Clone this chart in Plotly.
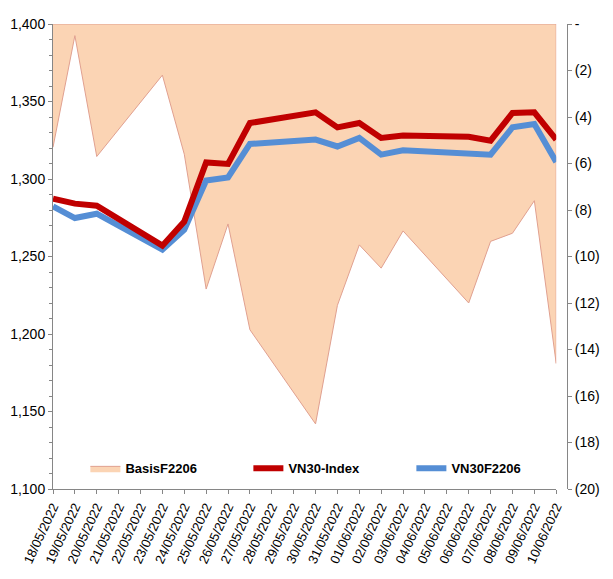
import plotly.graph_objects as go

dates = ["2022-05-18", "2022-05-19", "2022-05-20", "2022-05-23", "2022-05-24", "2022-05-25",
         "2022-05-26", "2022-05-27", "2022-05-30", "2022-05-31", "2022-06-01", "2022-06-02",
         "2022-06-03", "2022-06-06", "2022-06-07", "2022-06-08", "2022-06-09", "2022-06-10"]
vn30_index = [1287.3, 1284.1, 1282.8, 1257.0, 1272.5, 1310.7, 1309.7, 1336.1, 1343.0, 1333.3,
              1336.1, 1326.5, 1328.0, 1327.3, 1324.7, 1342.6, 1343.0, 1325.4]
vn30f2206 = [1282.3, 1274.8, 1277.6, 1254.4, 1267.3, 1299.0, 1301.0, 1322.6, 1325.4, 1321.0,
             1326.5, 1315.7, 1318.5, 1315.7, 1315.7, 1333.3, 1335.5, 1311.0]
basis = [-5.3, -0.5, -5.7, -2.2, -5.6, -11.4, -8.6, -13.15, -17.2, -12.1,
         -9.5, -10.5, -8.9, -12.0, -9.35, -9.0, -7.6, -14.6]

right_tickvals = [0, -2, -4, -6, -8, -10, -12, -14, -16, -18, -20]
right_ticktext = ["-", "(2)", "(4)", "(6)", "(8)", "(10)", "(12)", "(14)", "(16)", "(18)", "(20)"]

FONT = "Liberation Sans, Arial, sans-serif"
AXIS_GRAY = "#868686"

fig = go.Figure()

# Basis area (right axis, drawn underneath): closed polygon back along the zero baseline
poly_x = dates + [dates[-1], dates[0]]
poly_y = basis + [0, 0]
fig.add_trace(go.Scatter(
    x=poly_x, y=poly_y, yaxis="y", name="BasisF2206", legendrank=1,
    mode="lines", fill="toself", fillcolor="#FBD4B4",
    line=dict(color="#E0A090", width=1), hoverinfo="skip",
))
fig.add_trace(go.Scatter(
    x=dates, y=vn30f2206, yaxis="y2", name="VN30F2206", legendrank=3, mode="lines",
    line=dict(color="#558ED5", width=6),
))
fig.add_trace(go.Scatter(
    x=dates, y=vn30_index, yaxis="y2", name="VN30-Index", legendrank=2, mode="lines",
    line=dict(color="#C00000", width=6),
))

fig.update_layout(
    width=613, height=579,
    margin=dict(l=53, r=46, t=24, b=90),
    paper_bgcolor="white", plot_bgcolor="white",
    font=dict(family=FONT, size=12, color="#000000"),
    showlegend=True,
    legend=dict(
        orientation="h", x=0.063, y=0.012, xanchor="left", yanchor="bottom",
        bgcolor="rgba(0,0,0,0)",
        font=dict(family=FONT, size=13, color="#000000", weight="bold"),
        entrywidth=118, entrywidthmode="pixels",
    ),
    xaxis=dict(
        type="date", domain=[0, 0.979], automargin=False,
        range=["2022-05-18", "2022-06-10"],
        tickmode="linear", tick0="2022-05-18", dtick=86400000,
        tickformat="%d/%m/%Y", tickangle=-65,
        ticks="outside", ticklen=4, tickcolor=AXIS_GRAY,
        showline=True, linecolor=AXIS_GRAY, linewidth=1,
        showgrid=False, zeroline=False,
        tickfont=dict(family=FONT, size=13),
    ),
    yaxis=dict(
        side="right", anchor="free", position=1.0, automargin=False,
        range=[-20, 0], tickvals=right_tickvals, ticktext=right_ticktext,
        ticks="outside", ticklen=4, tickcolor=AXIS_GRAY,
        showline=True, linecolor=AXIS_GRAY, linewidth=1,
        showgrid=False, zeroline=False,
        tickfont=dict(family=FONT, size=14),
    ),
    yaxis2=dict(
        overlaying="y", side="left", anchor="x", automargin=False,
        range=[1100, 1400], dtick=50, tickformat=",d",
        ticks="outside", ticklen=4, tickcolor=AXIS_GRAY,
        minor=dict(dtick=10, ticks="outside", ticklen=3, tickcolor=AXIS_GRAY),
        showline=True, linecolor=AXIS_GRAY, linewidth=1,
        showgrid=False, zeroline=False,
        tickfont=dict(family=FONT, size=14),
    ),
)

fig.write_html("out.html")
